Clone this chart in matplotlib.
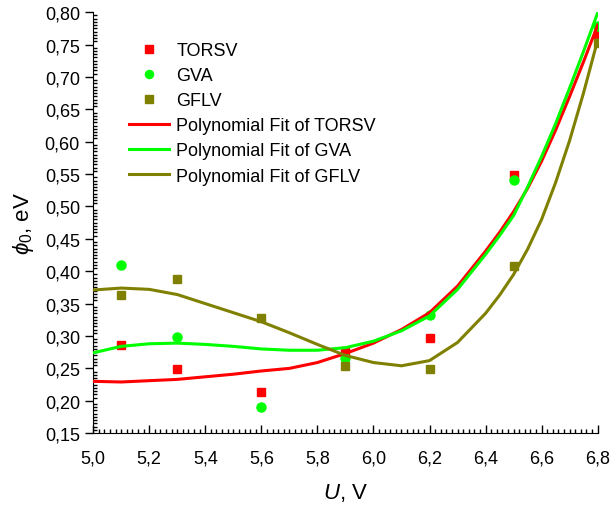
import matplotlib
matplotlib.use('Agg')
import matplotlib.pyplot as plt
from matplotlib.ticker import MultipleLocator, FuncFormatter

plt.rcParams['font.family'] = ['Liberation Sans', 'DejaVu Sans']
plt.rcParams['mathtext.fontset'] = 'custom'
plt.rcParams['mathtext.it'] = 'Liberation Sans:italic'
plt.rcParams['mathtext.rm'] = 'Liberation Sans'

# measured points
U = [5.1, 5.3, 5.6, 5.9, 6.2, 6.5, 6.8]
torsv = [0.286, 0.249, 0.214, 0.277, 0.297, 0.549, 0.766]
gva = [0.410, 0.299, 0.191, 0.266, 0.332, 0.541, 0.778]
gflv = [0.364, 0.388, 0.328, 0.254, 0.249, 0.408, 0.752]

# polynomial fit curves
U_fit = [5.0, 5.1, 5.2, 5.3, 5.4, 5.5, 5.6, 5.7, 5.8, 5.9, 6.0, 6.1, 6.2,
         6.3, 6.4, 6.45, 6.5, 6.55, 6.6, 6.65, 6.7, 6.75, 6.8]
fit_torsv = [0.230, 0.229, 0.231, 0.233, 0.237, 0.241, 0.246, 0.250, 0.259, 0.273,
             0.289, 0.310, 0.336, 0.377, 0.431, 0.460, 0.492, 0.528, 0.570, 0.618,
             0.670, 0.724, 0.780]
fit_gva = [0.274, 0.284, 0.288, 0.289, 0.287, 0.284, 0.280, 0.278, 0.278, 0.282,
           0.292, 0.308, 0.331, 0.372, 0.426, 0.455, 0.486, 0.530, 0.577, 0.628,
           0.683, 0.740, 0.799]
fit_gflv = [0.371, 0.374, 0.372, 0.364, 0.350, 0.336, 0.322, 0.305, 0.287, 0.270,
            0.259, 0.254, 0.262, 0.290, 0.335, 0.363, 0.395, 0.434, 0.480, 0.537,
            0.602, 0.676, 0.757]

c_torsv = '#ff0000'
c_gva = '#00ff00'
c_gflv = '#808000'

fig = plt.figure(figsize=(6.13, 5.06), dpi=100)
ax = fig.add_axes([0.152, 0.142, 0.823, 0.832])

ax.plot(U, torsv, 's', color=c_torsv, ms=6, label='TORSV', zorder=2)
ax.plot(U, gva, 'o', color=c_gva, ms=6.5, label='GVA', zorder=2)
ax.plot(U, gflv, 's', color=c_gflv, ms=6, label='GFLV', zorder=2)

ax.plot(U_fit, fit_torsv, '-', color=c_torsv, lw=2.2, label='Polynomial Fit of TORSV', zorder=3)
ax.plot(U_fit, fit_gva, '-', color=c_gva, lw=2.2, label='Polynomial Fit of GVA', zorder=3)
ax.plot(U_fit, fit_gflv, '-', color=c_gflv, lw=2.2, label='Polynomial Fit of GFLV', zorder=3)

ax.set_xlim(5.0, 6.8)
ax.set_ylim(0.15, 0.80)
ax.xaxis.set_major_locator(MultipleLocator(0.2))
ax.xaxis.set_minor_locator(MultipleLocator(0.02))
ax.yaxis.set_major_locator(MultipleLocator(0.05))
ax.yaxis.set_minor_locator(MultipleLocator(0.005))
ax.xaxis.set_major_formatter(FuncFormatter(lambda v, pos: f'{v:.1f}'.replace('.', ',')))
ax.yaxis.set_major_formatter(FuncFormatter(lambda v, pos: f'{v:.2f}'.replace('.', ',')))

ax.spines['top'].set_visible(False)
ax.spines['right'].set_visible(False)
ax.tick_params(axis='x', which='major', direction='in', length=6, width=1, labelsize=13, pad=12)
ax.tick_params(axis='x', which='minor', direction='in', length=3, width=1)
ax.tick_params(axis='y', which='major', direction='out', length=6, width=1, labelsize=13)
ax.tick_params(axis='y', which='minor', direction='in', length=3, width=1)

ax.set_xlabel('$U$, V', fontsize=16, labelpad=10)
ax.set_ylabel('$\\phi_0$, eV', fontsize=16, labelpad=6)

ax.legend(loc='upper left', bbox_to_anchor=(0.05, 0.955), frameon=False, fontsize=13,
          handlelength=2.2, labelspacing=0.45, handletextpad=0.4, borderaxespad=0.2,
          markerscale=0.9)

plt.savefig('out.png', dpi=100)
